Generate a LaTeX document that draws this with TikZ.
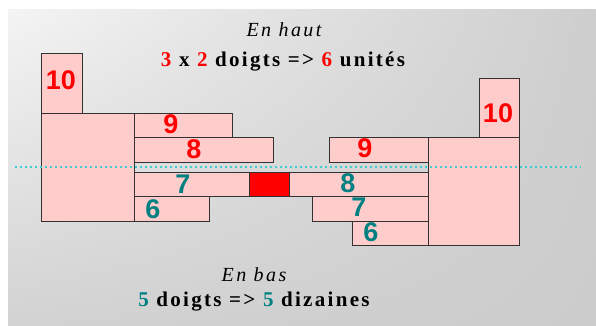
\documentclass[tikz,border=0pt]{standalone}
\usepackage{fontspec}
\setmainfont{Liberation Serif}
\newfontfamily\digitfont{Liberation Sans}
\usetikzlibrary{positioning,shadings}
\definecolor{boxpink}{RGB}{255,204,204}
\definecolor{boxline}{RGB}{50,50,50}
\definecolor{numred}{RGB}{255,0,0}
\definecolor{numteal}{RGB}{0,128,128}
\definecolor{cyanline}{RGB}{60,205,205}
\definecolor{bgA}{RGB}{244,244,244}
\definecolor{bgB}{RGB}{206,206,206}
\definecolor{bgC}{RGB}{210,210,210}
\definecolor{bgD}{RGB}{204,204,204}
\tikzset{
  box/.style={draw=boxline, line width=1.3pt, fill=boxpink, inner sep=0pt, anchor=north west},
  redsq/.style={draw=boxline, line width=1.3pt, fill=numred, inner sep=0pt, anchor=north west},
  numr/.style={inner sep=0pt, text=numred, font=\digitfont\bfseries\fontsize{27}{27}\selectfont},
  numt/.style={inner sep=0pt, text=numteal, font=\digitfont\bfseries\fontsize{27}{27}\selectfont},
  ital/.style={inner sep=0pt, anchor=base, font=\itshape\fontsize{20}{20}\selectfont\addfontfeature{LetterSpace=12}},
  boldline/.style={inner sep=0pt, anchor=base, font=\bfseries\fontsize{21}{21}\selectfont\addfontfeature{LetterSpace=11}},
  guide/.style={draw=cyanline, line width=2pt, dash pattern=on 2pt off 3pt}
}
\begin{document}
\begin{tikzpicture}[x=1pt,y=-1pt]
\useasboundingbox (0,0) rectangle (596,326);
\fill[white] (0,0) rectangle (596,326);
\shade[upper left=bgA, upper right=bgB, lower left=bgC, lower right=bgD] (8,10) rectangle (596,326);

% left assembly
\node[box, minimum width=41pt, minimum height=60pt] (L10) at (41,53) {};
\node[box, minimum width=93pt, minimum height=108pt] (Lbig) at (41,113) {};
\node[box, minimum width=98pt, minimum height=24pt] (L9) at (134,113) {};
\node[box, minimum width=139pt, minimum height=25pt] (L8) at (134,137) {};
\node[box, minimum width=115pt, minimum height=24pt] (L7) at (134,172) {};
\node[box, minimum width=75pt, minimum height=25pt] (L6) at (134,196) {};
\node[redsq, minimum width=40pt, minimum height=24pt] (R0) at (249,172) {};

% right assembly
\node[box, minimum width=40pt, minimum height=59pt] (R10) at (479,78) {};
\node[box, minimum width=91pt, minimum height=108pt] (Rbig) at (428,137) {};
\node[box, minimum width=99pt, minimum height=25pt] (R9) at (329,137) {};
\node[box, minimum width=139pt, minimum height=24pt] (R8) at (289,172) {};
\node[box, minimum width=116pt, minimum height=25pt] (R7) at (312,196) {};
\node[box, minimum width=76pt, minimum height=24pt] (R6) at (352,221) {};

% digits
\node[numr] (tL10) at (61,80) {10};
\node[numr] (tL9) at (171,124) {9};
\node[numr] (tL8) at (194,149) {8};
\node[numt] (tL7) at (183,184) {7};
\node[numt] (tL6) at (153,209) {6};
\node[numr] (tR10) at (498,113) {10};
\node[numr] (tR9) at (365,148) {9};
\node[numt] (tR8) at (348,183) {8};
\node[numt] (tR7) at (359,207) {7};
\node[numt] (tR6) at (371,232) {6};

% guide line
\coordinate (gl) at (15,167);
\coordinate (gr) at (581,167);
\draw[guide] (gl) -- (gr);

% texts
\node[ital] (haut) at (284,37) {En haut};
\node[boldline] (haut2) at (283,67) {\textcolor{numred}{3} x \textcolor{numred}{2} doigts => \textcolor{numred}{6} unités};
\node[ital] (bas) at (254,281) {En bas};
\node[boldline] (bas2) at (254,306) {\textcolor{numteal}{5} doigts => \textcolor{numteal}{5} dizaines};
\end{tikzpicture}
\end{document}
